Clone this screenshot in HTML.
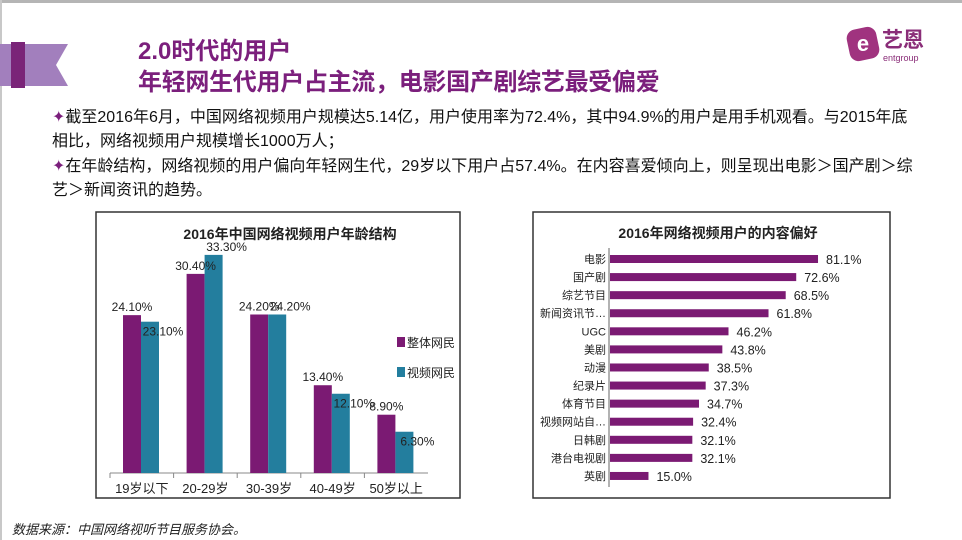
<!DOCTYPE html>
<html><head><meta charset="utf-8">
<style>
body{margin:0;width:962px;height:540px;overflow:hidden;background:#fff;font-family:"Liberation Sans","Noto Sans CJK SC",sans-serif;}
#wrap{position:relative;width:962px;height:540px;}
.t{position:absolute;white-space:nowrap;}
</style></head><body>
<div id="wrap">
<div style="position:absolute;left:0;top:0;width:962px;height:3px;background:#b5b5b5"></div>
<div style="position:absolute;left:0;top:0;width:2px;height:540px;background:#c8c8c8"></div>
<svg style="position:absolute;left:0;top:0" width="962" height="540">
<polygon points="0,44 68,44 56,65 68,86 0,86" fill="#a27fbd"/>
<rect x="11" y="42" width="14" height="46" fill="#7a2478"/>
<g>
<rect x="848" y="28" width="30" height="32" rx="9" fill="#a0337f" transform="rotate(-12 863 44)"/>
<text x="863" y="51" font-size="22" font-weight="bold" fill="#fff" text-anchor="middle" font-family="Liberation Sans,sans-serif">e</text>
<text x="882" y="47" font-size="21" font-weight="bold" fill="#8a2d78" font-family="Liberation Sans,Noto Sans CJK SC,sans-serif">艺恩</text>
<text x="883" y="61" font-size="9" fill="#8a2d78" font-family="Liberation Sans,sans-serif">entgroup</text>
</g>
</svg>
<div class="t" style="left:138px;top:31px;font-size:24px;font-weight:bold;color:#7b1f7c">2.0时代的用户</div>
<div class="t" style="left:138px;top:62px;font-size:24px;font-weight:bold;color:#7b1f7c;letter-spacing:-0.3px">年轻网生代用户占主流，电影国产剧综艺最受偏爱</div>
<div class="t" style="left:52px;top:106px;font-size:16px;line-height:24.3px;color:#111">
<span style="color:#7b1f7c">✦</span>截至2016年6月，中国网络视频用户规模达5.14亿，用户使用率为72.4%，其中94.9%的用户是用手机观看。与2015年底<br>相比，网络视频用户规模增长1000万人；<br>
<span style="color:#7b1f7c">✦</span>在年龄结构，网络视频的用户偏向年轻网生代，29岁以下用户占57.4%。在内容喜爱倾向上，则呈现出电影＞国产剧＞综<br>艺＞新闻资讯的趋势。</div>
<div class="t" style="left:12px;top:519px;font-size:13px;font-style:italic;color:#222">数据来源：中国网络视听节目服务协会。</div>

<svg id="c1" style="position:absolute;left:0;top:0" width="962" height="540">
<rect x="96" y="212" width="364" height="286" fill="#fff" stroke="#333" stroke-width="1.5"/>
<text x="290" y="239" font-size="14" font-weight="bold" text-anchor="middle" fill="#222">2016年中国网络视频用户年龄结构</text>
</svg>
<svg id="c2" style="position:absolute;left:0;top:0" width="962" height="540">
<rect x="533" y="212" width="357" height="286" fill="#fff" stroke="#333" stroke-width="1.5"/>
<text x="718" y="238" font-size="14" font-weight="bold" text-anchor="middle" fill="#222">2016年网络视频用户的内容偏好</text>
</svg>
</div>
<script>
const ageCats=["19岁以下","20-29岁","30-39岁","40-49岁","50岁以上"];
const ageAll=[24.1,30.4,24.2,13.4,8.9];
const ageVideo=[23.1,33.3,24.2,12.1,6.3];
const ageSeries=["整体网民","视频网民"];
const prefCats=["电影","国产剧","综艺节目","新闻资讯节…","UGC","美剧","动漫","纪录片","体育节目","视频网站自…","日韩剧","港台电视剧","英剧"];
const prefVals=[81.1,72.6,68.5,61.8,46.2,43.8,38.5,37.3,34.7,32.4,32.1,32.1,15.0];
const NS="http://www.w3.org/2000/svg";
function mk(p,tag,attrs,txt){const e=document.createElementNS(NS,tag);for(const k in attrs)e.setAttribute(k,attrs[k]);if(txt!==undefined)e.textContent=txt;p.appendChild(e);return e;}
const colA="#7b1a73",colB="#237e9e";
(function(){
const s=document.getElementById('c1');
const base=473,x0=110,gw=63.6,scale=6.55,bw=18;
const y=v=>base-v*scale;
const ax=mk(s,'line',{x1:x0,y1:base,x2:x0+gw*ageCats.length,y2:base,stroke:'#888'});


ageCats.forEach((c,i)=>{
 const gx=x0+gw*i;
 const tk=mk(s,'line',{x1:gx,y1:base,x2:gx,y2:base+5,stroke:'#888'});
 
 
 const lb=mk(s,'text',{x:gx+gw/2,y:base+20,'font-size':13,'text-anchor':'middle',fill:'#222'},c);
 
 
 const bx=gx+13;
 const a=mk(s,'rect',{x:bx,y:y(ageAll[i]),width:bw,height:ageAll[i]*scale,fill:colA});
 
 
 const b=mk(s,'rect',{x:bx+bw,y:y(ageVideo[i]),width:bw,height:ageVideo[i]*scale,fill:colB});
 
 
 const la=mk(s,'text',{x:bx+9,y:y(ageAll[i])-4,'font-size':12,'text-anchor':'middle',fill:'#222'},ageAll[i].toFixed(2)+'%');
 
 
 const vy=ageVideo[i]>=ageAll[i]?y(ageVideo[i])-4:y(ageVideo[i])+14;
 const lv=mk(s,'text',{x:bx+bw+22,y:vy,'font-size':12,'text-anchor':'middle',fill:'#222'},ageVideo[i].toFixed(2)+'%');
 
 
});
ageSeries.forEach((n,i)=>{
 const r=mk(s,'rect',{x:397,y:337+i*30,width:8,height:10,fill:i?colB:colA});
 
 
 const t=mk(s,'text',{x:407,y:347+i*30,'font-size':12,fill:'#222'},n);
 
 
});
})();
(function(){
const s=document.getElementById('c2');
const x0=610,scale=2.565,y0=259,step=18.08,bh=8;
const ax=mk(s,'line',{x1:609,y1:248,x2:609,y2:487,stroke:'#666'});


prefCats.forEach((c,i)=>{
 const cy=y0+i*step;
 const r=mk(s,'rect',{x:x0,y:cy-bh/2,width:prefVals[i]*scale,height:bh,fill:colA});
 
 
 const l=mk(s,'text',{x:606,y:cy+4,'font-size':11,'text-anchor':'end',fill:'#222'},c);
 
 
 const v=mk(s,'text',{x:x0+prefVals[i]*scale+8,y:cy+5,'font-size':12.5,fill:'#222'},prefVals[i].toFixed(1)+'%');
 
 
});
})();
</script>
</body></html>
